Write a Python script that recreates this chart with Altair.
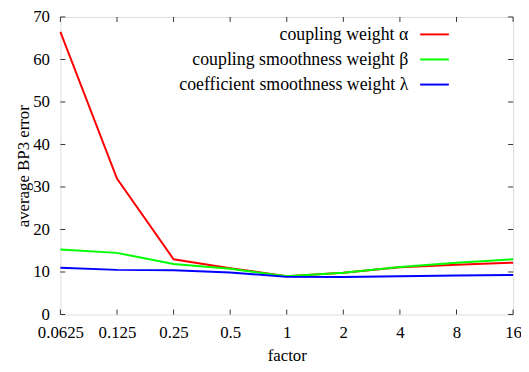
import altair as alt
import pandas as pd

factors = ["0.0625", "0.125", "0.25", "0.5", "1", "2", "4", "8", "16"]
alpha_vals = [66.5, 32.0, 13.0, 10.9, 9.0, 9.8, 11.1, 11.7, 12.2]
beta_vals = [15.3, 14.5, 11.9, 10.75, 9.0, 9.8, 11.2, 12.2, 13.0]
lambda_vals = [11.0, 10.5, 10.4, 9.9, 8.85, 8.8, 9.0, 9.15, 9.3]
series_names = ["coupling weight α", "coupling smoothness weight β", "coefficient smoothness weight λ"]
series_colors = ["#ff0000", "#00ff00", "#0000ff"]
y_ticks = [0, 10, 20, 30, 40, 50, 60, 70]

rows = []
for name, vals in zip(series_names, [alpha_vals, beta_vals, lambda_vals]):
    for f, v in zip(factors, vals):
        rows.append({"factor": f, "value": v, "series": name})
df = pd.DataFrame(rows)

leg = pd.DataFrame({"series": series_names, "row": [0, 1, 2]})
xt = pd.DataFrame({"factor": factors})
yt = pd.DataFrame({"v": y_ticks})

FONT = "'Liberation Serif', Tinos, 'Times New Roman', 'DejaVu Serif'"
FS = 17
W, H = 458, 301

xscale = alt.Scale(type="point", domain=factors, padding=0)
xenc = alt.X("factor:O", sort=factors, scale=xscale,
             axis=alt.Axis(title="factor", labelAngle=0, tickSize=0, domain=False, grid=False,
                           labelPadding=10, titlePadding=8, labelFontSize=FS, titleFontSize=FS,
                           labelColor="black", titleColor="black", labelFont=FONT, titleFont=FONT,
                           titleFontWeight="normal"))
yscale = alt.Scale(domain=[0, 70], nice=False)
yenc = alt.Y("value:Q", scale=yscale,
             axis=alt.Axis(title="average BP3 error", values=y_ticks, tickSize=0, domain=False, grid=False,
                           labelPadding=11, titlePadding=0, labelFontSize=FS, titleFontSize=FS,
                           labelColor="black", titleColor="black", labelFont=FONT, titleFont=FONT,
                           titleFontWeight="normal"))
cscale = alt.Scale(domain=series_names, range=series_colors)

lines = alt.Chart(df).mark_line(strokeWidth=2).encode(
    x=xenc, y=yenc,
    color=alt.Color("series:N", scale=cscale, legend=None),
    detail="series:N",
)

tick_col = "#333333"
xt_bottom = alt.Chart(xt).mark_rule(color=tick_col, strokeWidth=1).encode(
    x=alt.X("factor:O", sort=factors, scale=xscale), y=alt.value(H), y2=alt.value(H - 5))
xt_top = alt.Chart(xt).mark_rule(color=tick_col, strokeWidth=1).encode(
    x=alt.X("factor:O", sort=factors, scale=xscale), y=alt.value(0), y2=alt.value(5))
yt_left = alt.Chart(yt).mark_rule(color=tick_col, strokeWidth=1).encode(
    y=alt.Y("v:Q", scale=yscale), x=alt.value(0), x2=alt.value(5))
yt_right = alt.Chart(yt).mark_rule(color=tick_col, strokeWidth=1).encode(
    y=alt.Y("v:Q", scale=yscale), x=alt.value(W), x2=alt.value(W - 5))

leg_base = alt.Chart(leg).transform_calculate(ly="65.9 - datum.row * 5.9")
leg_text = leg_base.mark_text(align="right", baseline="middle", font=FONT, fontSize=18, color="black", dy=1).encode(
    x=alt.value(352), y=alt.Y("ly:Q", scale=yscale), text="series:N")
leg_line = leg_base.mark_rule(strokeWidth=2).encode(
    x=alt.value(364), x2=alt.value(393), y=alt.Y("ly:Q", scale=yscale),
    color=alt.Color("series:N", scale=cscale, legend=None))

chart = alt.layer(lines, xt_bottom, xt_top, yt_left, yt_right, leg_text, leg_line).properties(
    width=W, height=H,
    autosize=alt.AutoSizeParams(type="none"),
    padding={"left": 53, "top": 7, "right": 8, "bottom": 48},
).configure_view(stroke="#222222", strokeWidth=1.5).configure(background="white", font=FONT)

chart.save("out.html", embed_options={"renderer": "svg", "actions": False})
